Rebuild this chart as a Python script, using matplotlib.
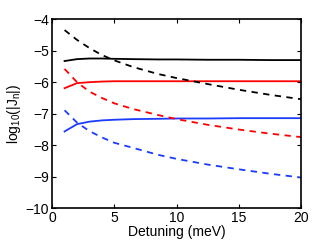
import numpy as np
import matplotlib
matplotlib.use('Agg')
import matplotlib.pyplot as plt

plt.rcParams['font.family'] = ['Liberation Sans', 'DejaVu Sans']
plt.rcParams['mathtext.fontset'] = 'custom'
plt.rcParams['mathtext.rm'] = 'Liberation Sans'
plt.rcParams['mathtext.it'] = 'Liberation Sans'

# detuning (meV)
x = [1, 2, 3, 4, 5, 6.5, 8.5, 10, 12.5, 15, 17.5, 20]

# solid lines (log10 |J_n|)
black_solid = [-5.33, -5.27, -5.25, -5.25, -5.26, -5.27, -5.28, -5.28, -5.29, -5.29, -5.30, -5.30]
red_solid = [-6.19, -6.03, -6.0, -5.98, -5.97, -5.97, -5.97, -5.97, -5.97, -5.97, -5.97, -5.97]
blue_solid = [-7.56, -7.33, -7.25, -7.21, -7.19, -7.17, -7.16, -7.15, -7.15, -7.14, -7.14, -7.14]

# dashed lines
black_dash = [-4.35, -4.66, -4.92, -5.14, -5.31, -5.52, -5.74, -5.87, -6.06, -6.24, -6.40, -6.54]
red_dash = [-5.58, -6.0, -6.3, -6.5, -6.67, -6.85, -7.04, -7.17, -7.35, -7.50, -7.63, -7.74]
blue_dash = [-6.89, -7.28, -7.55, -7.75, -7.92, -8.08, -8.30, -8.43, -8.61, -8.76, -8.90, -9.02]

fig = plt.figure(figsize=(3.32, 2.41), dpi=100)
ax = fig.add_axes([0.157, 0.135, 0.75, 0.786])

lw = 1.3
ax.plot(x, black_solid, '-', color='k', lw=lw)
ax.plot(x, red_solid, '-', color='#ff0000', lw=lw)
ax.plot(x, blue_solid, '-', color='#1a3cff', lw=lw)
ax.plot(x, black_dash, '--', color='k', lw=lw, dashes=(3.5, 3))
ax.plot(x, red_dash, '--', color='#ff0000', lw=lw, dashes=(3.5, 3))
ax.plot(x, blue_dash, '--', color='#1a3cff', lw=lw, dashes=(3.5, 3))

ax.set_xlim(0, 20)
ax.set_ylim(-10, -4)
ax.set_xticks([0, 5, 10, 15, 20])
ax.set_yticks([-10, -9, -8, -7, -6, -5, -4])
ax.tick_params(direction='in', top=True, right=True, labelsize=10, length=3, width=0.8, pad=2)
for s in ax.spines.values():
    s.set_linewidth(1.2)

ax.set_xlabel('Detuning (meV)', fontsize=10, labelpad=0)
ax.set_ylabel(r'log$_{10}$(|J$_n$|)', fontsize=10, labelpad=2)

fig.savefig('out.png', dpi=100)
